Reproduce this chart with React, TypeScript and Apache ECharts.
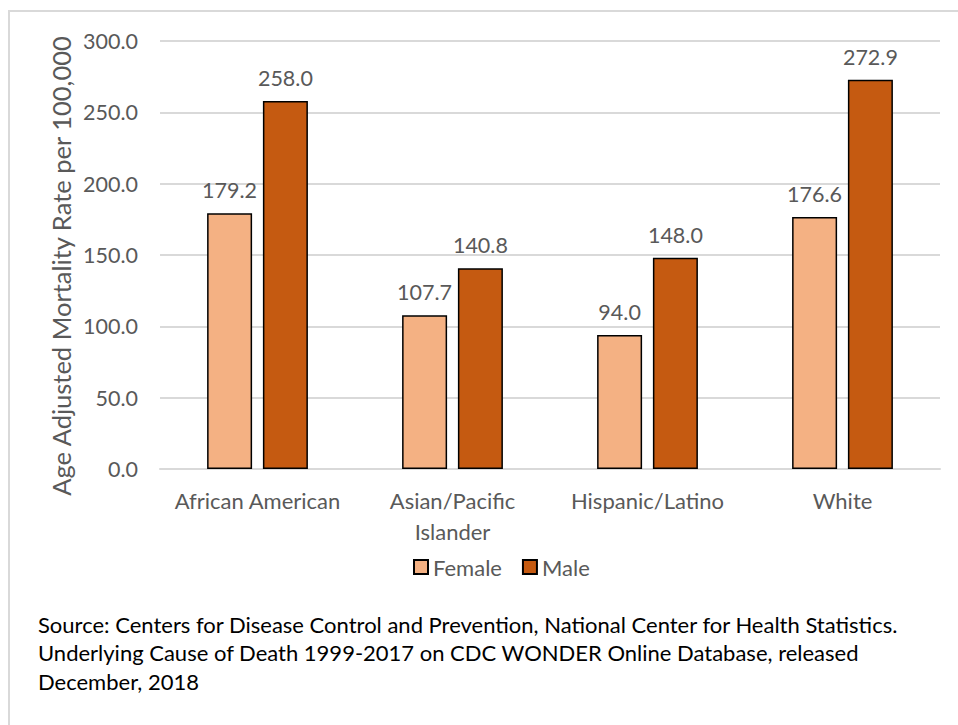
import React, { useEffect, useRef } from "react";
import * as echarts from "echarts";

const categories = ["African American", "Asian/Pacific\nIslander", "Hispanic/Latino", "White"];
const femaleValues = [179.2, 107.7, 94.0, 176.6];
const maleValues = [258.0, 140.8, 148.0, 272.9];
const seriesNames = ["Female", "Male"];
const yAxisTitle = "Age Adjusted Mortality Rate per 100,000";
const sourceLines = [
  "Source: Centers for Disease Control and Prevention, National Center for Health Statistics.",
  "Underlying Cause of Death 1999-2017 on CDC WONDER Online Database, released",
  "December, 2018",
];

const FONT = "Lato";
const GREY = "#595959";

export default function App() {
  const ref = useRef<HTMLDivElement>(null);
  useEffect(() => {
    if (!ref.current) return;
    const chart = echarts.init(ref.current, undefined, { renderer: "svg" });
    const labelCfg = {
      show: true,
      position: "top" as const,
      distance: 12,
      color: GREY,
      fontFamily: FONT,
      fontSize: 21.5,
      formatter: (p: any) => Number(p.value).toFixed(1),
    };
    chart.setOption({
      animation: false,
      backgroundColor: "#ffffff",
      textStyle: { fontFamily: FONT },
      grid: { left: 160, right: 18, top: 41, bottom: 256, containLabel: false },
      legend: {
        data: seriesNames,
        left: 408,
        top: 551,
        itemWidth: 14,
        itemHeight: 14,
        itemGap: 20,
        icon: "rect",
        textStyle: { color: GREY, fontFamily: FONT, fontSize: 22 },
      },
      xAxis: {
        type: "category",
        data: categories,
        axisLine: { lineStyle: { color: "#d9d9d9", width: 2 } },
        axisTick: { show: false },
        axisLabel: {
          color: GREY,
          fontFamily: FONT,
          fontSize: 22,
          margin: 16,
          lineHeight: 31,
          interval: 0,
        },
      },
      yAxis: {
        type: "value",
        min: 0,
        max: 300,
        interval: 50,
        axisLine: { show: false },
        axisTick: { show: false },
        splitLine: { lineStyle: { color: "#d9d9d9", width: 2 } },
        axisLabel: {
          color: GREY,
          fontFamily: FONT,
          fontSize: 21.5,
          margin: 22,
          formatter: (v: number) => v.toFixed(1),
        },
      },
      series: [
        {
          name: seriesNames[0],
          type: "bar",
          data: femaleValues,
          barWidth: 45,
          barGap: "24%",
          itemStyle: { color: "#F4B183", borderColor: "#000000", borderWidth: 1.5 },
          label: labelCfg,
        },
        {
          name: seriesNames[1],
          type: "bar",
          data: maleValues,
          barWidth: 45,
          barGap: "24%",
          itemStyle: { color: "#C55A11", borderColor: "#000000", borderWidth: 1.5 },
          label: labelCfg,
        },
      ],
      graphic: [
        {
          type: "rect",
          shape: { x: 9, y: 11, width: 970, height: 740 },
          style: { fill: "none", stroke: "#d9d9d9", lineWidth: 2 },
          silent: true,
        },
        {
          type: "text",
          x: 61,
          y: 266,
          rotation: Math.PI / 2,
          style: {
            text: yAxisTitle,
            fill: GREY,
            font: `25.5px ${FONT}`,
            align: "center",
            verticalAlign: "middle",
          },
        },
        ...sourceLines.map((t, i) => ({
          type: "text",
          left: 38,
          top: 613 + i * 28.5,
          style: { text: t, fill: "#000000", font: `22px ${FONT}` },
        })),
      ],
    });
    return () => chart.dispose();
  }, []);
  return (
    <div
      ref={ref}
      style={{ position: "fixed", left: 0, top: 0, width: 958, height: 725 }}
    />
  );
}
